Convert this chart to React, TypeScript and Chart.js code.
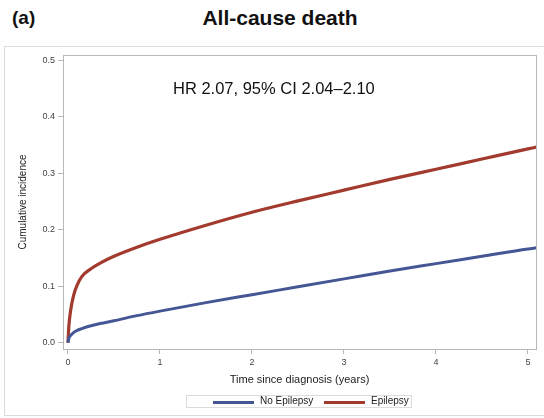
import React, { useEffect, useRef } from "react";
import { Chart, registerables } from "chart.js";

Chart.register(...registerables);

const TITLE = "All-cause death";
const PANEL = "(a)";
const ANNOTATION = "HR 2.07, 95% CI 2.04\u20132.10";
const X_TITLE = "Time since diagnosis (years)";
const Y_TITLE = "Cumulative incidence";
const SERIES_NAMES = ["No Epilepsy", "Epilepsy"];
const X_TICKS = [0, 1, 2, 3, 4, 5];
const Y_TICKS = [0, 0.1, 0.2, 0.3, 0.4, 0.5];

const TIME = [0, 0.01, 0.03, 0.06, 0.1, 0.15, 0.25, 0.35, 0.5, 0.75, 1, 1.5, 2, 2.5, 3, 3.5, 4, 4.5, 5, 5.09];
const EPILEPSY = [0, 0.03, 0.058, 0.083, 0.102, 0.117, 0.131, 0.141, 0.153, 0.169, 0.183, 0.208, 0.231, 0.251, 0.27, 0.289, 0.307, 0.325, 0.343, 0.346];
const NO_EPILEPSY = [0, 0.008, 0.013, 0.018, 0.022, 0.025, 0.03, 0.034, 0.039, 0.048, 0.056, 0.071, 0.085, 0.099, 0.113, 0.127, 0.14, 0.153, 0.166, 0.168];

const BLUE = "#445694";
const RED = "#a23a2e";
const FONT = "'Liberation Sans', Arial, sans-serif";

const framePlugin = {
  id: "frame",
  afterDatasetsDraw(chart: any) {
    const { ctx, chartArea } = chart;
    ctx.save();
    ctx.strokeStyle = "#b8b8b8";
    ctx.lineWidth = 1;
    ctx.strokeRect(chartArea.left + 0.5, chartArea.top + 0.5, chartArea.right - chartArea.left, chartArea.bottom - chartArea.top);
    ctx.restore();
  },
};

export default function App() {
  const ref = useRef<HTMLCanvasElement | null>(null);

  useEffect(() => {
    if (!ref.current) return;
    const chart = new Chart(ref.current, {
      type: "line",
      data: {
        datasets: [
          {
            label: SERIES_NAMES[0],
            data: TIME.map((t, i) => ({ x: t, y: NO_EPILEPSY[i] })),
            borderColor: BLUE,
            backgroundColor: BLUE,
            borderWidth: 3,
            pointRadius: 0,
            cubicInterpolationMode: "monotone",
          },
          {
            label: SERIES_NAMES[1],
            data: TIME.map((t, i) => ({ x: t, y: EPILEPSY[i] })),
            borderColor: RED,
            backgroundColor: RED,
            borderWidth: 3.2,
            pointRadius: 0,
            cubicInterpolationMode: "monotone",
          },
        ],
      },
      options: {
        animation: false,
        responsive: false,
        maintainAspectRatio: false,
        layout: { padding: { left: 0, top: 55, right: 8, bottom: 0 } },
        plugins: {
          legend: { display: false },
          tooltip: { enabled: false },
        },
        scales: {
          x: {
            type: "linear",
            min: -0.054,
            max: 5.087,
            afterFit: (s: any) => {
              s.height = 69;
            },
            afterBuildTicks: (s: any) => {
              s.ticks = X_TICKS.map((v) => ({ value: v }));
            },
            ticks: {
              color: "#444",
              font: { family: FONT, size: 9 },
              padding: 3,
              maxRotation: 0,
              callback: (v: any) => String(v),
            },
            grid: { drawOnChartArea: false, tickLength: 5, color: "#b8b8b8" },
            border: { display: false },
            title: {
              display: true,
              text: X_TITLE,
              color: "#222",
              font: { family: FONT, size: 11 },
              padding: { top: 0, bottom: 31 },
            },
          },
          y: {
            type: "linear",
            min: -0.011,
            max: 0.509,
            afterFit: (s: any) => {
              s.width = 63;
            },
            afterBuildTicks: (s: any) => {
              s.ticks = Y_TICKS.map((v) => ({ value: v }));
            },
            ticks: {
              color: "#444",
              font: { family: FONT, size: 9 },
              padding: 3,
              callback: (v: any) => Number(v).toFixed(1),
            },
            grid: { drawOnChartArea: false, tickLength: 5, color: "#b8b8b8" },
            border: { display: false },
            title: {
              display: true,
              text: Y_TITLE,
              color: "#222",
              font: { family: FONT, size: 10 },
              padding: { top: 17, bottom: 0 },
            },
          },
        },
      },
      plugins: [framePlugin],
    } as any);
    return () => chart.destroy();
  }, []);

  return (
    <div
      style={{
        position: "fixed",
        left: 0,
        top: 0,
        width: 544,
        height: 418,
        overflow: "hidden",
        background: "#fff",
        fontFamily: FONT,
      }}
    >
      <div
        style={{
          position: "absolute",
          left: 4,
          top: 46,
          width: 600,
          height: 368,
          border: "1px solid #dcdcdc",
        }}
      />
      <div style={{ position: "absolute", left: 12, top: 7, fontSize: 19, fontWeight: "bold", color: "#111" }}>
        {PANEL}
      </div>
      <div
        style={{
          position: "absolute",
          left: 0,
          width: 560,
          top: 6,
          textAlign: "center",
          fontSize: 21,
          fontWeight: "bold",
          color: "#111",
        }}
      >
        {TITLE}
      </div>
      <canvas ref={ref} width={544} height={418} style={{ position: "absolute", left: 0, top: 0 }} />
      <div
        style={{
          position: "absolute",
          left: 173,
          top: 79,
          fontSize: 16.5,
          color: "#111",
          whiteSpace: "nowrap",
        }}
      >
        {ANNOTATION}
      </div>
      <div
        style={{
          position: "absolute",
          left: 186,
          top: 395,
          width: 226,
          height: 13,
          border: "1px solid #dcdcdc",
          boxSizing: "border-box",
          fontSize: 10,
          color: "#222",
        }}
      >
        <div style={{ position: "absolute", left: 26, top: 4.5, width: 41, height: 3, background: BLUE }} />
        <div style={{ position: "absolute", left: 73, top: -1, whiteSpace: "nowrap" }}>{SERIES_NAMES[0]}</div>
        <div style={{ position: "absolute", left: 137, top: 4.5, width: 41, height: 3, background: RED }} />
        <div style={{ position: "absolute", left: 184, top: -1, whiteSpace: "nowrap" }}>{SERIES_NAMES[1]}</div>
      </div>
    </div>
  );
}
